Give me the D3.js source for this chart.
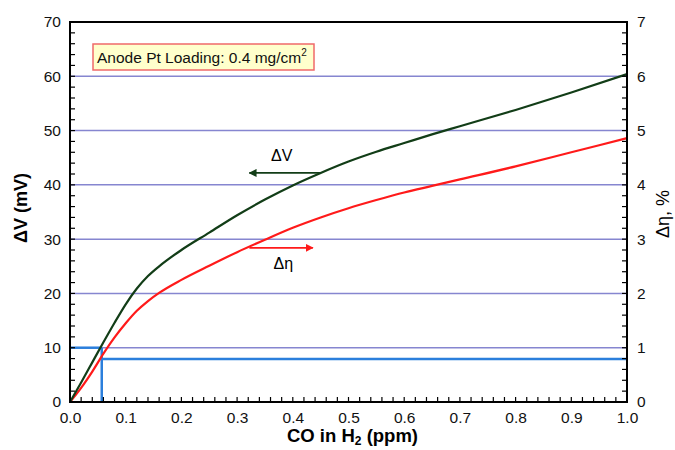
<!DOCTYPE html>
<html>
<head>
<meta charset="utf-8">
<script src="https://cdn.jsdelivr.net/npm/d3@7"></script>
<style>
  html, body { margin: 0; padding: 0; background: #fff; }
  svg { display: block; font-family: "Liberation Sans", Arial, sans-serif; }
</style>
</head>
<body>
<svg id="chart" width="675" height="450"></svg>
<script>
// CO concentration in H2 (ppm)
const coPpm = [0, 0.02, 0.04, 0.06, 0.08, 0.10, 0.12, 0.14, 0.16, 0.20, 0.25, 0.30, 0.35, 0.40, 0.45, 0.50, 0.55, 0.60, 0.65, 0.70, 0.80, 0.90, 1.00];
// Voltage loss, mV (left axis)
const deltaV = [0, 3.6, 7.3, 11.0, 14.6, 18.0, 20.9, 23.2, 25.0, 28.0, 31.2, 34.4, 37.3, 39.9, 42.2, 44.3, 46.1, 47.7, 49.3, 50.8, 53.8, 57.0, 60.4];
// Efficiency loss, % (right axis)
const deltaEta = [0, 0.26, 0.56, 0.89, 1.19, 1.45, 1.68, 1.86, 2.01, 2.25, 2.51, 2.76, 2.99, 3.21, 3.40, 3.57, 3.72, 3.86, 3.98, 4.10, 4.34, 4.60, 4.86];

const leftTicks = [0, 10, 20, 30, 40, 50, 60, 70];
const rightTicks = [0, 1, 2, 3, 4, 5, 6, 7];
const xTicks = [0, 0.1, 0.2, 0.3, 0.4, 0.5, 0.6, 0.7, 0.8, 0.9, 1.0];
const gridValues = [10, 20, 30, 40, 50, 60];

// Reference lines: 10 mV at ~0.057 ppm, and 0.79 % efficiency loss
const refPpm = 0.057;
const refMv = 10;
const refEta = 0.79;

const svg = d3.select("#chart");
const m = { left: 70, right: 48, top: 22, bottom: 48 };
const W = 675, H = 450;

const x = d3.scaleLinear().domain([0, 1]).range([m.left, W - m.right]);
const yL = d3.scaleLinear().domain([0, 70]).range([H - m.bottom, m.top]);
const yR = d3.scaleLinear().domain([0, 7]).range([H - m.bottom, m.top]);

// horizontal grid
svg.append("g").selectAll("line").data(gridValues).join("line")
  .attr("x1", x(0)).attr("x2", x(1))
  .attr("y1", d => yL(d)).attr("y2", d => yL(d))
  .attr("stroke", "#8686d0").attr("stroke-width", 1.5);

// reference lines
const blue = "#2b7fdc";
svg.append("path")
  .attr("d", `M${x(0)},${yL(refMv)}H${x(refPpm)}`)
  .attr("stroke", blue).attr("stroke-width", 2.5).attr("fill", "none");
svg.append("path")
  .attr("d", `M${x(refPpm)},${yL(0)}V${yL(refMv)}`)
  .attr("stroke", blue).attr("stroke-width", 2.5).attr("fill", "none");
svg.append("path")
  .attr("d", `M${x(refPpm)},${yR(refEta)}H${x(1)}`)
  .attr("stroke", blue).attr("stroke-width", 2.5).attr("fill", "none");

// curves
const lineV = d3.line().x((d, i) => x(coPpm[i])).y(d => yL(d)).curve(d3.curveMonotoneX);
const lineE = d3.line().x((d, i) => x(coPpm[i])).y(d => yR(d)).curve(d3.curveMonotoneX);
svg.append("path").attr("d", lineE(deltaEta))
  .attr("fill", "none").attr("stroke", "#ff1a1a").attr("stroke-width", 2.2);
svg.append("path").attr("d", lineV(deltaV))
  .attr("fill", "none").attr("stroke", "#123d17").attr("stroke-width", 2.2);

// frame
svg.append("rect")
  .attr("x", x(0)).attr("y", yL(70))
  .attr("width", x(1) - x(0)).attr("height", yL(0) - yL(70))
  .attr("fill", "none").attr("stroke", "#000").attr("stroke-width", 2);

// axes with inward minor ticks
const axL = d3.axisLeft(yL).tickValues(leftTicks).tickSize(0).tickPadding(9);
const gL = svg.append("g").attr("transform", `translate(${x(0)},0)`).call(axL);
const axR = d3.axisRight(yR).tickValues(rightTicks).tickFormat(d3.format("d")).tickSize(0).tickPadding(10);
const gR = svg.append("g").attr("transform", `translate(${x(1)},0)`).call(axR);
const axB = d3.axisBottom(x).tickValues(xTicks).tickFormat(d3.format(".1f")).tickSize(0).tickPadding(10);
const gB = svg.append("g").attr("transform", `translate(0,${yL(0)})`).call(axB);
[gL, gR, gB].forEach(g => {
  g.select(".domain").remove();
  g.selectAll("text").attr("font-size", 15.5).attr("fill", "#111")
    .attr("font-family", "'Liberation Sans', Arial, sans-serif");
});

const minorL = d3.range(0, 70.01, 2);
svg.append("g").selectAll("line").data(minorL).join("line")
  .attr("x1", x(0)).attr("x2", x(0) + 5)
  .attr("y1", d => yL(d)).attr("y2", d => yL(d))
  .attr("stroke", "#000").attr("stroke-width", 1.2);
const minorR = d3.range(0, 7.001, 0.2);
svg.append("g").selectAll("line").data(minorR).join("line")
  .attr("x1", x(1)).attr("x2", x(1) - 5)
  .attr("y1", d => yR(d)).attr("y2", d => yR(d))
  .attr("stroke", "#000").attr("stroke-width", 1.2);
const minorB = d3.range(0, 1.0001, 0.02);
svg.append("g").selectAll("line").data(minorB).join("line")
  .attr("x1", d => x(d)).attr("x2", d => x(d))
  .attr("y1", yL(0)).attr("y2", yL(0) - 5)
  .attr("stroke", "#000").attr("stroke-width", 1.2);

// axis titles
svg.append("text")
  .attr("transform", `translate(27,${(yL(0) + yL(70)) / 2 - 4}) rotate(-90)`)
  .attr("text-anchor", "middle").attr("font-size", 18).attr("font-weight", "bold")
  .text("ΔV (mV)");
svg.append("text")
  .attr("transform", `translate(669,${(yR(0) + yR(7)) / 2 + 2}) rotate(-90)`)
  .attr("text-anchor", "middle").attr("font-size", 18)
  .text("Δη, %");
const xt = svg.append("text")
  .attr("x", (x(0) + x(1)) / 2 + 4).attr("y", 442)
  .attr("text-anchor", "middle").attr("font-size", 18.5).attr("font-weight", "bold");
xt.append("tspan").text("CO in H");
xt.append("tspan").attr("font-size", 12).attr("dy", 3).text("2");
xt.append("tspan").attr("dy", -3).text(" (ppm)");

// loading note
svg.append("rect")
  .attr("x", 93).attr("y", 44).attr("width", 221).attr("height", 26)
  .attr("fill", "#ffffcc").attr("stroke", "#f06a6a").attr("stroke-width", 1.5);
const note = svg.append("text")
  .attr("x", 97).attr("y", 63).attr("font-size", 15.5).attr("fill", "#111");
note.append("tspan").text("Anode Pt Loading: 0.4 mg/cm");
note.append("tspan").attr("font-size", 10).attr("dy", -7).text("2");

// series markers with arrows
const defs = svg.append("defs");
function marker(id, color) {
  defs.append("marker").attr("id", id)
    .attr("viewBox", "0 0 10 10").attr("refX", 9).attr("refY", 5)
    .attr("markerWidth", 5).attr("markerHeight", 5).attr("orient", "auto")
    .append("path").attr("d", "M0,0L10,5L0,10z").attr("fill", color);
}
marker("arrG", "#123d17");
marker("arrR", "#ff1a1a");

svg.append("line")
  .attr("x1", x(0.45)).attr("x2", x(0.322))
  .attr("y1", yL(42.2)).attr("y2", yL(42.2))
  .attr("stroke", "#123d17").attr("stroke-width", 1.6).attr("marker-end", "url(#arrG)");
svg.append("text").attr("x", x(0.38)).attr("y", yL(44.4))
  .attr("text-anchor", "middle").attr("font-size", 16).text("ΔV");

svg.append("line")
  .attr("x1", x(0.322)).attr("x2", x(0.436))
  .attr("y1", yR(2.84)).attr("y2", yR(2.84))
  .attr("stroke", "#ff1a1a").attr("stroke-width", 1.6).attr("marker-end", "url(#arrR)");
svg.append("text").attr("x", x(0.383)).attr("y", yR(2.45))
  .attr("text-anchor", "middle").attr("font-size", 16).text("Δη");
</script>
</body>
</html>
